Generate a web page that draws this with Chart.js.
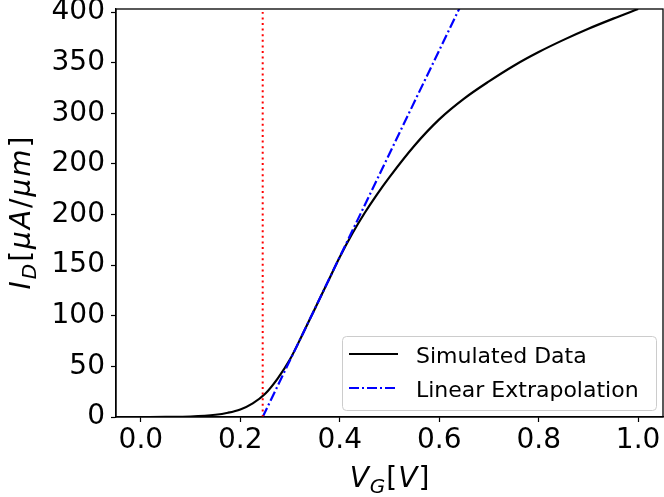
<!DOCTYPE html>
<html>
<head>
<meta charset="utf-8">
<script src="https://cdn.jsdelivr.net/npm/chart.js@4.4.1/dist/chart.umd.min.js"></script>
<style>
  html, body { margin: 0; padding: 0; background: #ffffff; }
  #chart { display: block; }
</style>
</head>
<body>
<canvas id="chart" width="664" height="497"></canvas>
<script>
// Data
const vgValues = [0, 0.05, 0.10, 0.15, 0.175, 0.20, 0.225, 0.25, 0.275, 0.30, 0.325, 0.35, 0.375, 0.40, 0.425, 0.45, 0.475, 0.50, 0.55, 0.60, 0.65, 0.70, 0.75, 0.80, 0.85, 0.90, 0.95, 1.00];
const idValues = [0, 0.1, 0.5, 2.2, 4.2, 7.5, 13.5, 23, 38, 57, 81.5, 107, 132.5, 158, 181, 201.5, 220, 237, 268, 294, 314.5, 331.5, 347, 360.5, 372.5, 383.5, 393.5, 403];

const extrapVg = [0.245, 0.641];
const extrapId = [0, 404];

const thresholdVg = [0.245, 0.245];
const thresholdId = [0, 400];

const xTickValues = [0, 0.2, 0.4, 0.6, 0.8, 1.0];
const xTickLabels = ['0.0', '0.2', '0.4', '0.6', '0.8', '1.0'];
const yTickValues = [0, 50, 100, 150, 200, 250, 300, 350, 400];
const yTickLabels = ['0', '50', '100', '150', '200', '200', '300', '350', '400'];

const seriesNames = ['Simulated Data', 'Linear Extrapolation'];

// Variables
const fontFamily = 'DejaVu Sans';
const xRange = [-0.05, 1.05];
const yRange = [0, 403];

function toPoints(xs, ys) {
    return xs.map((x, i) => ({ x: x, y: ys[i] }));
}

// mixed italic / upright / subscript text, like matplotlib mathtext
function partFont(p) {
    const size = p.sub ? 20 : 28;
    return (p.it ? 'italic ' : '') + size + 'px "' + fontFamily + '"';
}

function drawMathText(ctx, parts, x, y, gap) {
    let total = 0;
    const widths = parts.map(p => {
        ctx.font = partFont(p);
        const w = ctx.measureText(p.t).width;
        total += w;
        return w;
    });
    total += gap * (parts.length - 1);
    let cx = x - total / 2;
    ctx.textAlign = 'left';
    ctx.textBaseline = 'alphabetic';
    ctx.fillStyle = '#000000';
    parts.forEach((p, i) => {
        ctx.font = partFont(p);
        ctx.fillText(p.t, cx, y + (p.sub ? 6 : 0));
        cx += widths[i] + gap;
    });
}

const xTitleParts = [
    { t: 'V', it: true }, { t: 'G', it: true, sub: true },
    { t: '[' }, { t: 'V', it: true }, { t: ']' }
];
const yTitleParts = [
    { t: 'I', it: true }, { t: 'D', it: true, sub: true },
    { t: '[' }, { t: 'μ', it: true }, { t: 'A', it: true }, { t: '/' },
    { t: 'μ', it: true }, { t: 'm', it: true }, { t: ']' }
];

const framePlugin = {
    id: 'frame',
    afterDatasetsDraw(chart) {
        const a = chart.chartArea;
        const ctx = chart.ctx;
        ctx.save();
        ctx.strokeStyle = '#000000';
        ctx.lineWidth = 1.3;
        ctx.strokeRect(a.left, a.top, a.right - a.left, a.bottom - a.top);
        ctx.restore();
    }
};

const titlesPlugin = {
    id: 'mathTitles',
    afterDraw(chart) {
        const a = chart.chartArea;
        const ctx = chart.ctx;
        ctx.save();
        drawMathText(ctx, xTitleParts, (a.left + a.right) / 2, 487, 1);
        ctx.translate(29.5, (a.top + a.bottom) / 2);
        ctx.rotate(-Math.PI / 2);
        drawMathText(ctx, yTitleParts, 0, 0, 2);
        ctx.restore();
    }
};

// legend box inside the axes, lower right
const boxLegendPlugin = {
    id: 'boxLegend',
    afterDraw(chart) {
        const ctx = chart.ctx;
        const items = chart.data.datasets.filter(ds => ds.label);
        const box = { x: 342, y: 336, w: 314, h: 74 };
        ctx.save();
        ctx.beginPath();
        ctx.roundRect(box.x + 0.5, box.y + 0.5, box.w, box.h, 4);
        ctx.fillStyle = 'rgba(255,255,255,0.8)';
        ctx.fill();
        ctx.strokeStyle = '#cccccc';
        ctx.lineWidth = 1;
        ctx.stroke();

        items.forEach((ds, i) => {
            const rowY = 354 + i * 34;
            ctx.beginPath();
            ctx.setLineDash(ds.borderDash || []);
            ctx.strokeStyle = ds.borderColor;
            ctx.lineWidth = ds.borderWidth;
            ctx.moveTo(349, rowY);
            ctx.lineTo(398, rowY);
            ctx.stroke();
            ctx.setLineDash([]);
            ctx.fillStyle = '#000000';
            ctx.font = '22px "' + fontFamily + '"';
            ctx.textAlign = 'left';
            ctx.textBaseline = 'alphabetic';
            ctx.fillText(ds.label, 416, rowY + 9);
        });
        ctx.restore();
    }
};

const data = {
    datasets: [
        {
            label: seriesNames[0],
            data: toPoints(vgValues, idValues),
            borderColor: '#000000',
            borderWidth: 2.2,
            cubicInterpolationMode: 'monotone',
            pointRadius: 0,
            order: 3
        },
        {
            label: seriesNames[1],
            data: toPoints(extrapVg, extrapId),
            borderColor: '#0000ff',
            borderWidth: 2.2,
            borderDash: [10, 3, 2, 3],
            pointRadius: 0,
            order: 2
        },
        {
            label: '',
            data: toPoints(thresholdVg, thresholdId),
            borderColor: '#ff0000',
            borderWidth: 2,
            borderDash: [2, 3.6],
            pointRadius: 0,
            order: 1
        }
    ]
};

const options = {
    responsive: false,
    animation: false,
    layout: {
        padding: { left: 0, right: 1, top: 9, bottom: 0 }
    },
    scales: {
        x: {
            type: 'linear',
            min: xRange[0],
            max: xRange[1],
            afterBuildTicks(axis) {
                axis.ticks = xTickValues.map(v => ({ value: v }));
            },
            afterFit(scale) {
                scale.height = 80;
                scale.paddingLeft = 0;
                scale.paddingRight = 0;
            },
            ticks: {
                callback: (v, i) => xTickLabels[i],
                color: '#000000',
                padding: 2,
                maxRotation: 0,
                autoSkip: false,
                font: { family: fontFamily, size: 28 }
            },
            grid: {
                drawOnChartArea: false,
                drawTicks: true,
                tickLength: 5,
                tickColor: '#000000',
                tickWidth: 1.2
            },
            border: { display: true, color: '#000000', width: 1.3 }
        },
        y: {
            type: 'linear',
            min: yRange[0],
            max: yRange[1],
            afterBuildTicks(axis) {
                axis.ticks = yTickValues.map(v => ({ value: v }));
            },
            afterFit(scale) {
                scale.width = 116;
                scale.paddingTop = 0;
                scale.paddingBottom = 0;
            },
            ticks: {
                callback: (v, i) => yTickLabels[i],
                color: '#000000',
                padding: 6,
                autoSkip: false,
                font: { family: fontFamily, size: 28 }
            },
            grid: {
                drawOnChartArea: false,
                drawTicks: true,
                tickLength: 5,
                tickColor: '#000000',
                tickWidth: 1.2
            },
            border: { display: true, color: '#000000', width: 1.3 }
        }
    },
    plugins: {
        legend: { display: false },
        tooltip: { enabled: false }
    }
};

new Chart(document.getElementById('chart'), {
    type: 'line',
    data: data,
    options: options,
    plugins: [framePlugin, titlesPlugin, boxLegendPlugin]
});
</script>
</body>
</html>
